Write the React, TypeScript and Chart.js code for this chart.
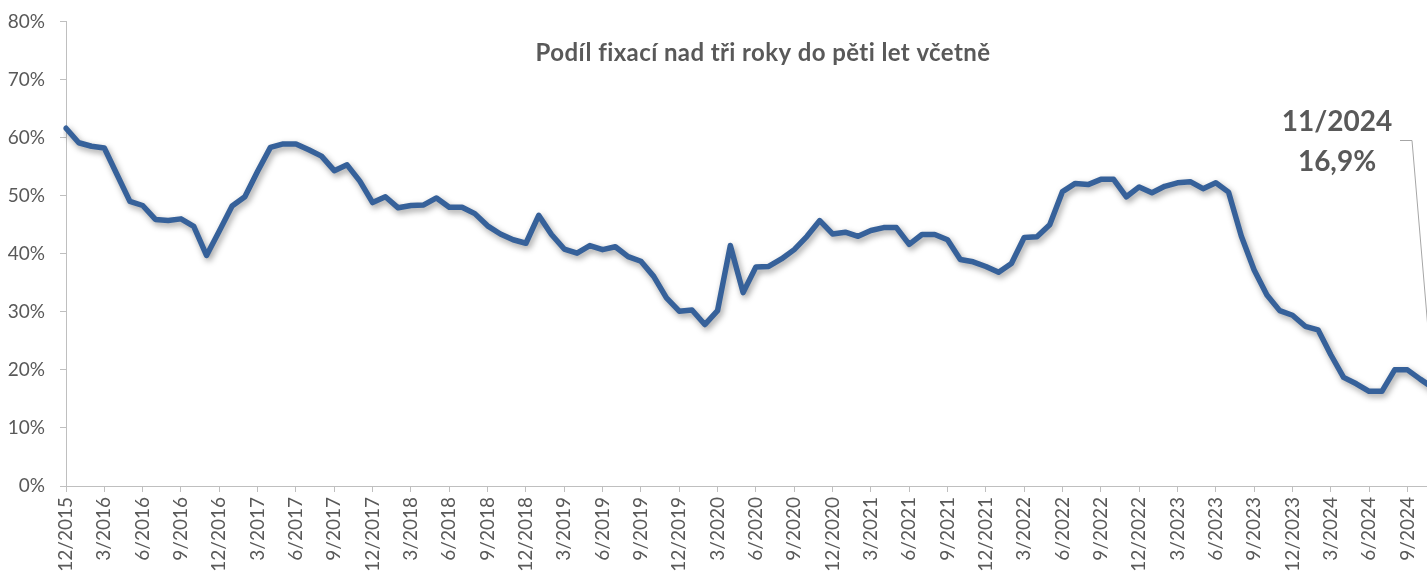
import React, { useEffect, useRef } from "react";
import { Chart, registerables } from "chart.js";

Chart.register(...registerables);

const TITLE = "Podíl fixací nad tři roky do pěti let včetně";

const months: string[] = [
  "12/2015",
  "1/2016", "2/2016", "3/2016", "4/2016", "5/2016", "6/2016", "7/2016", "8/2016", "9/2016", "10/2016", "11/2016", "12/2016",
  "1/2017", "2/2017", "3/2017", "4/2017", "5/2017", "6/2017", "7/2017", "8/2017", "9/2017", "10/2017", "11/2017", "12/2017",
  "1/2018", "2/2018", "3/2018", "4/2018", "5/2018", "6/2018", "7/2018", "8/2018", "9/2018", "10/2018", "11/2018", "12/2018",
  "1/2019", "2/2019", "3/2019", "4/2019", "5/2019", "6/2019", "7/2019", "8/2019", "9/2019", "10/2019", "11/2019", "12/2019",
  "1/2020", "2/2020", "3/2020", "4/2020", "5/2020", "6/2020", "7/2020", "8/2020", "9/2020", "10/2020", "11/2020", "12/2020",
  "1/2021", "2/2021", "3/2021", "4/2021", "5/2021", "6/2021", "7/2021", "8/2021", "9/2021", "10/2021", "11/2021", "12/2021",
  "1/2022", "2/2022", "3/2022", "4/2022", "5/2022", "6/2022", "7/2022", "8/2022", "9/2022", "10/2022", "11/2022", "12/2022",
  "1/2023", "2/2023", "3/2023", "4/2023", "5/2023", "6/2023", "7/2023", "8/2023", "9/2023", "10/2023", "11/2023", "12/2023",
  "1/2024", "2/2024", "3/2024", "4/2024", "5/2024", "6/2024", "7/2024", "8/2024", "9/2024", "10/2024", "11/2024",
];

const shareFix3to5: number[] = [
  61.6, 59.1, 58.5, 58.2, 53.6, 49.0, 48.3, 45.9, 45.7, 46.0, 44.7, 39.7,
  43.9, 48.2, 49.8, 54.2, 58.3, 58.9, 58.9, 57.9, 56.8, 54.3, 55.3, 52.5,
  48.8, 49.8, 47.9, 48.3, 48.4, 49.6, 48.0, 48.0, 46.9, 44.8, 43.4, 42.4,
  41.8, 46.6, 43.3, 40.8, 40.1, 41.4, 40.7, 41.2, 39.5, 38.7, 36.1, 32.4,
  30.1, 30.3, 27.8, 30.2, 41.4, 33.3, 37.7, 37.8, 39.1, 40.7, 43.0, 45.7,
  43.4, 43.7, 43.0, 44.0, 44.5, 44.5, 41.6, 43.3, 43.3, 42.4, 39.0, 38.6,
  37.8, 36.8, 38.3, 42.8, 42.9, 45.0, 50.7, 52.1, 51.9, 52.8, 52.8, 49.8,
  51.5, 50.5, 51.6, 52.2, 52.4, 51.2, 52.2, 50.6, 43.0, 37.2, 32.9, 30.2,
  29.4, 27.5, 26.9, 22.6, 18.7, 17.6, 16.3, 16.3, 20.0, 20.0, 18.4, 16.9,
];

const yTicks: number[] = [0, 10, 20, 30, 40, 50, 60, 70, 80];

const TEXT = "#595959";
const AXIS = "#bfbfbf";
const LINE = "#36619a";
const FONT = "Lato, 'Open Sans', sans-serif";
const SHIFT = 5; // canvas is drawn 5px above the page top

const shadowPlugin = {
  id: "lineShadow",
  beforeDatasetDraw(chart: any) {
    const ctx = chart.ctx;
    ctx.save();
    ctx.shadowColor = "rgba(0,0,0,0.38)";
    ctx.shadowBlur = 6;
    ctx.shadowOffsetX = 2;
    ctx.shadowOffsetY = 3;
  },
  afterDatasetDraw(chart: any) {
    chart.ctx.restore();
  },
};

const textPlugin = {
  id: "titleAndNote",
  afterDraw(chart: any) {
    const ctx = chart.ctx;
    const xs = chart.scales.x;
    const ys = chart.scales.y;
    ctx.save();
    ctx.fillStyle = TEXT;
    ctx.textAlign = "center";
    ctx.textBaseline = "middle";
    ctx.font = `bold 24px ${FONT}`;
    try {
      (ctx as any).letterSpacing = "0.4px";
    } catch (e) {}
    ctx.fillText(TITLE, 763, 53 + SHIFT);
    try {
      (ctx as any).letterSpacing = "0px";
    } catch (e) {}

    const last = shareFix3to5.length - 1;
    const px = xs.getPixelForValue(last);
    const py = ys.getPixelForValue(shareFix3to5[last]);
    const cx = px - 96;
    ctx.font = `bold 28px ${FONT}`;
    ctx.fillText(months[last], cx, 122 + SHIFT);
    ctx.fillText(shareFix3to5[last].toFixed(1).replace(".", ",") + "%", cx, 162 + SHIFT);

    ctx.strokeStyle = "#a6a6a6";
    ctx.lineWidth = 1;
    ctx.beginPath();
    ctx.moveTo(px - 33, 140.5 + SHIFT);
    ctx.lineTo(px - 21, 140.5 + SHIFT);
    ctx.lineTo(px, py);
    ctx.stroke();
    ctx.restore();
  },
};

export default function App() {
  const ref = useRef<HTMLCanvasElement | null>(null);

  useEffect(() => {
    if (!ref.current) return;
    const chart = new Chart(ref.current, {
      type: "line",
      data: {
        labels: months,
        datasets: [
          {
            data: shareFix3to5,
            borderColor: LINE,
            borderWidth: 5.5,
            borderJoinStyle: "round",
            borderCapStyle: "round",
            pointRadius: 0,
            tension: 0,
            fill: false,
          },
        ],
      },
      options: {
        animation: false,
        responsive: false,
        devicePixelRatio: 1,
        layout: { padding: { top: 17, right: 27, left: 0, bottom: 0 } },
        plugins: {
          legend: { display: false },
          tooltip: { enabled: false },
          title: { display: false },
        },
        scales: {
          x: {
            type: "category",
            offset: false,
            border: { display: true, color: AXIS, width: 1 },
            grid: { display: true, drawOnChartArea: false, drawTicks: true, tickLength: 6, color: AXIS },
            ticks: {
              autoSkip: false,
              maxRotation: 90,
              minRotation: 90,
              padding: 5,
              color: TEXT,
              font: { family: FONT, size: 19 },
              callback: (_v: any, i: number) => (i % 3 === 0 ? months[i] : null),
            },
            afterFit: (s: any) => {
              s.height = 88;
            },
          },
          y: {
            min: 0,
            max: 80,
            border: { display: true, color: AXIS, width: 1 },
            grid: { display: true, drawOnChartArea: false, drawTicks: true, tickLength: 6, color: AXIS },
            afterBuildTicks: (s: any) => {
              s.ticks = yTicks.map((v) => ({ value: v }));
            },
            ticks: {
              padding: 15,
              color: TEXT,
              font: { family: FONT, size: 19 },
              callback: (v: any) => `${v}%`,
            },
            afterFit: (s: any) => {
              s.width = 66;
            },
          },
        },
      },
      plugins: [shadowPlugin, textPlugin],
    });
    return () => chart.destroy();
  }, []);

  return (
    <div
      style={{
        position: "absolute",
        left: 0,
        top: 0,
        width: 1427,
        height: 574,
        overflow: "hidden",
        background: "#ffffff",
      }}
    >
      <canvas
        ref={ref}
        width={1460}
        height={574 + SHIFT}
        style={{ display: "block", width: 1460, height: 574 + SHIFT, marginTop: -SHIFT }}
      />
    </div>
  );
}
